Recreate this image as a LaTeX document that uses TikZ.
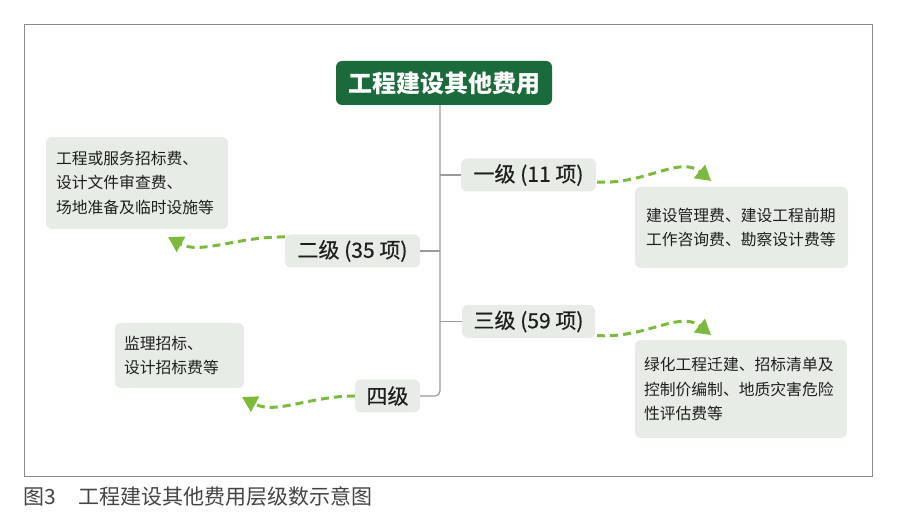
\documentclass[tikz,border=0pt]{standalone}
\usepackage{fontspec}
\setmainfont{Noto Sans CJK SC}
\newfontface\levelfont{Noto Sans CJK SC}[FakeBold=0.5]
\usetikzlibrary{arrows.meta,calc}
\definecolor{rootgreen}{HTML}{1B6A3B}
\definecolor{boxfill}{HTML}{E8ECE6}
\definecolor{arrgreen}{HTML}{7CBA3D}
\definecolor{framegray}{HTML}{8A8A8A}
\definecolor{linegray}{HTML}{9A9A9A}
\definecolor{txt}{HTML}{1E1E1E}
\definecolor{captxt}{HTML}{444444}
\tikzset{
  rootbox/.style={fill=rootgreen, rounded corners=6pt, text=white, font=\fontsize{24}{28}\selectfont\bfseries, minimum width=216pt, minimum height=44pt, inner sep=0pt},
  levelbox/.style={fill=boxfill, rounded corners=6pt, text=txt, font=\fontsize{21}{25}\levelfont, minimum height=33pt, inner sep=0pt},
  leafbox/.style={fill=boxfill, rounded corners=6pt, text=txt, font=\fontsize{15.8}{24.5}\selectfont, align=left, inner ysep=0pt, anchor=center},
  branch/.style={draw=linegray, line width=1.2pt},
  greenarr/.style={draw=arrgreen, line width=3pt, dash pattern=on 8pt off 5pt, -{Triangle[length=15pt,width=17pt]}},
}
\begin{document}
\begin{tikzpicture}[x=1pt,y=-1pt]
\useasboundingbox (0,0) rectangle (900,526);
\draw[framegray, line width=1pt] (24,25) rectangle (872,477);

\node[rootbox] (root) at (444,83) {工程建设其他费用};
\coordinate (tr) at ([xshift=-4pt]root.south);

\node[levelbox, minimum width=135pt] (n1) at (528.5,175) {一级 (11 项)};
\node[levelbox, minimum width=135pt] (n2) at (352.5,251) {二级 (35 项)};
\node[levelbox, minimum width=133pt] (n3) at (528.5,321.5) {三级 (59 项)};
\node[levelbox, minimum width=65pt] (n4) at (387.5,396) {四级};

\draw[branch, rounded corners=5pt] (tr) |- (n4.east);
\draw[branch] (n1.west) -- (n1.west -| tr);
\draw[branch] (n2.east) -- (n2.east -| tr);
\draw[branch] (n3.west) -- (n3.west -| tr);

\node[leafbox, minimum width=182pt, minimum height=92pt, text width=162pt, inner xsep=10pt] (l2) at (137,183) {工程或服务招标费、\\设计文件审查费、\\场地准备及临时设施等};
\node[leafbox, minimum width=213pt, minimum height=81pt, text width=191pt, inner xsep=11pt] (l1) at (741.5,227.5) {建设管理费、建设工程前期\\工作咨询费、勘察设计费等};
\node[leafbox, minimum width=212pt, minimum height=98pt, text width=194pt, inner xsep=9pt] (l3) at (741,389) {绿化工程迁建、招标清单及\\控制价编制、地质灾害危险\\性评估费等};
\node[leafbox, minimum width=129pt, minimum height=65pt, text width=111pt, inner xsep=9pt] (l4) at (179.5,355.5) {监理招标、\\设计招标费等};

\coordinate (t1) at (711,181);
\coordinate (t2) at (168,237);
\coordinate (t3) at (711,335);
\coordinate (t4) at (242,397);

\draw[greenarr] ($(n1.east)+(1,7)$) .. controls (645,185) and (680,155) .. (t1);
\draw[greenarr] ($(n3.east)+(2,14)$) .. controls (645,339) and (680,310) .. (t3);
\draw[greenarr] ($(n2.west)+(0,-14)$) .. controls (240,236) and (200,255) .. (t2);
\draw[greenarr] (n4.west) .. controls (310,396) and (275,415) .. (t4);

\node[anchor=west, text=captxt, font=\fontsize{21}{25}\selectfont, inner sep=0pt] (cap) at (23,497) {图3\hspace{1.1em}工程建设其他费用层级数示意图};
\end{tikzpicture}
\end{document}
